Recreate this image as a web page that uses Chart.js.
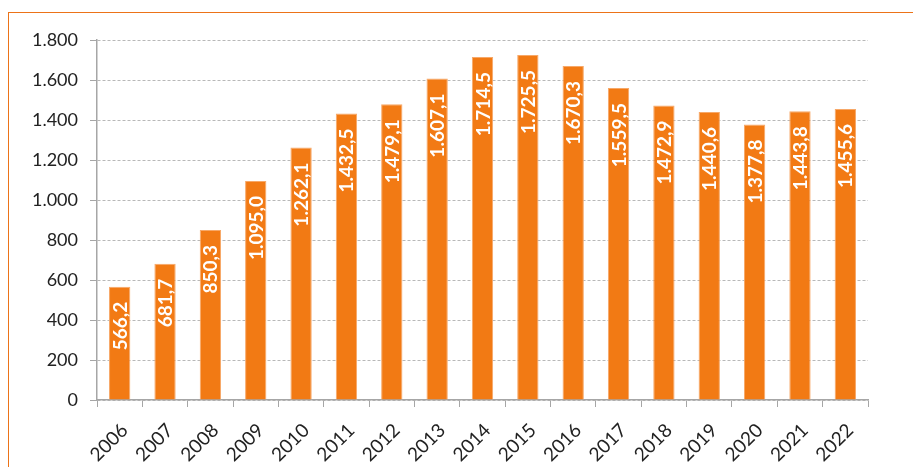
<!DOCTYPE html>
<html>
<head>
<meta charset="utf-8">
<script src="https://cdn.jsdelivr.net/npm/chart.js@4/dist/chart.umd.min.js"></script>
<style>
  html, body { margin: 0; padding: 0; background: #fff; }
  #wrap { position: relative; width: 913px; height: 467px; overflow: hidden; }
  #frame { position: absolute; left: 8px; top: 12px; width: 1000px; height: 1000px;
           border-top: 1.5px solid #EC7318; border-left: 1.5px solid #EC7318; box-sizing: border-box; }
  canvas { position: absolute; left: 0; top: 0; }
</style>
</head>
<body>
<div id="wrap">
  <div id="frame"></div>
  <canvas id="c" width="913" height="467"></canvas>
</div>
<script>
const categories = ['2006','2007','2008','2009','2010','2011','2012','2013','2014','2015','2016','2017','2018','2019','2020','2021','2022'];
const values = [566.2, 681.7, 850.3, 1095.0, 1262.1, 1432.5, 1479.1, 1607.1, 1714.5, 1725.5, 1670.3, 1559.5, 1472.9, 1440.6, 1377.8, 1443.8, 1455.6];
const yMin = 0, yMax = 1800, yStep = 200;

function fmtThousands(n) {
  return String(Math.round(n)).replace(/\B(?=(\d{3})+(?!\d))/g, '.');
}
function fmtValue(v) {
  const parts = v.toFixed(1).split('.');
  return parts[0].replace(/\B(?=(\d{3})+(?!\d))/g, '.') + ',' + parts[1];
}

const valueLabels = {
  id: 'valueLabels',
  afterDatasetsDraw(chart) {
    const ctx = chart.ctx;
    const meta = chart.getDatasetMeta(0);
    ctx.save();
    ctx.fillStyle = '#ffffff';
    ctx.font = 'bold 19px Lato';
    ctx.textAlign = 'right';
    ctx.textBaseline = 'alphabetic';
    meta.data.forEach((bar, i) => {
      ctx.save();
      ctx.translate(bar.x, bar.y + 15);
      ctx.rotate(-Math.PI / 2);
      ctx.fillText(fmtValue(values[i]), 0, 7);
      ctx.restore();
    });
    ctx.restore();
  }
};

new Chart(document.getElementById('c'), {
  type: 'bar',
  data: {
    labels: categories,
    datasets: [{
      data: values,
      backgroundColor: '#F27A14',
      borderColor: '#F7A868',
      borderWidth: 1,
      barPercentage: 0.47,
      categoryPercentage: 1.0
    }]
  },
  options: {
    responsive: false,
    devicePixelRatio: 1,
    animation: false,
    layout: { padding: { left: 9, top: 40, right: 45, bottom: 0 } },
    plugins: { legend: { display: false }, tooltip: { enabled: false } },
    scales: {
      x: {
        grid: { display: true, drawOnChartArea: false, drawTicks: true, tickLength: 7,
                color: '#a6a6a6', tickColor: '#a6a6a6', offset: true },
        border: { display: true, color: '#a6a6a6', width: 1.5 },
        ticks: { color: '#222', font: { family: 'Lato', size: 19 }, maxRotation: 45, minRotation: 45,
                 padding: 12, labelOffset: 5, autoSkip: false },
        afterFit(scale) { scale.height = 67; scale.paddingLeft = 0; scale.paddingRight = 0; }
      },
      y: {
        min: yMin, max: yMax,
        grid: { color: '#b8b8b8', lineWidth: 1, tickLength: 7, tickColor: '#a6a6a6', tickBorderDash: [] },
        border: { display: true, color: '#a6a6a6', width: 1.5, dash: [3, 2] },
        ticks: { stepSize: yStep, color: '#222', font: { family: 'Lato', size: 18 }, padding: 12,
                 callback: (v) => fmtThousands(v) },
        afterFit(scale) { scale.width = 88; }
      }
    }
  },
  plugins: [valueLabels]
});
</script>
</body>
</html>
